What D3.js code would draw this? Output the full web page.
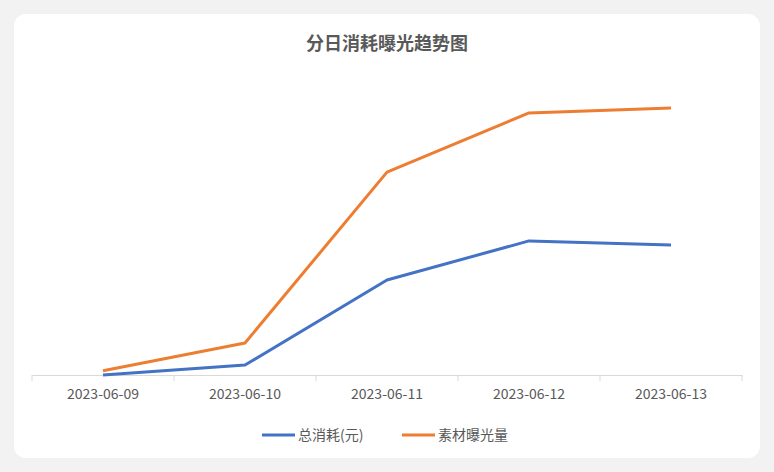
<!DOCTYPE html>
<html>
  <head>
    <script src="https://cdnjs.cloudflare.com/ajax/libs/d3/7.8.5/d3.min.js"></script>
    <style>
      body { margin: 0; background: #f2f2f2; font-family: "Noto Sans CJK SC", sans-serif; }
    </style>
  </head>
  <body>
    <div id="canvas"></div>
    <script>
      // データ
      const categories = ["2023-06-09", "2023-06-10", "2023-06-11", "2023-06-12", "2023-06-13"];
      const spend = [0, 3.1, 29.7, 41.9, 40.6];
      const exposure = [1.3, 10, 63.4, 81.9, 83.4];
      const seriesNames = ["总消耗(元)", "素材曝光量"];
      const colors = ["#4472c4", "#ed7d31"];

      const width = 774, height = 472;
      const svg = d3.select("#canvas").append("svg").attr("width", width).attr("height", height);

      // カード
      svg.append("rect").attr("x", 14).attr("y", 14).attr("width", 746).attr("height", 444)
        .attr("rx", 12).attr("fill", "#fff");

      svg.append("text").attr("x", width / 2).attr("y", 50).attr("text-anchor", "middle")
        .style("font-size", "18px").style("font-weight", "bold").style("fill", "#595959")
        .text("分日消耗曝光趋势图");

      const x = d3.scaleBand().domain(categories).range([32, 742]);
      const y = d3.scaleLinear().domain([0, 100]).range([375, 55]);

      // X軸
      const xAxis = svg.append("g").attr("transform", "translate(0,375)")
        .call(d3.axisBottom(x).tickSizeInner(0).tickSizeOuter(0).tickPadding(14));
      xAxis.select(".domain").attr("stroke", "#d9d9d9");
      xAxis.selectAll("text").style("font-size", "14px").style("fill", "#595959")
        .style("font-family", "'Noto Sans CJK SC', sans-serif");
      // 目盛り（境界）
      svg.selectAll(".tick-b").data(d3.range(categories.length + 1)).enter().append("line")
        .attr("x1", (i) => 32 + i * x.step()).attr("x2", (i) => 32 + i * x.step())
        .attr("y1", 375).attr("y2", 381).attr("stroke", "#d9d9d9");

      const line = d3.line().x((d, i) => x(categories[i]) + x.bandwidth() / 2).y((d) => y(d));
      [spend, exposure].forEach((s, k) => {
        svg.append("path").datum(s).attr("d", line).attr("fill", "none")
          .attr("stroke", colors[k]).attr("stroke-width", 3).attr("stroke-linejoin", "round");
      });

      // 凡例
      const legX = [262, 402];
      seriesNames.forEach((n, k) => {
        svg.append("line").attr("x1", legX[k]).attr("x2", legX[k] + 33).attr("y1", 435).attr("y2", 435)
          .attr("stroke", colors[k]).attr("stroke-width", 3);
        svg.append("text").attr("x", legX[k] + 36).attr("y", 440).style("font-size", "14px")
          .style("fill", "#595959").text(n);
      });
    </script>
  </body>
</html>
